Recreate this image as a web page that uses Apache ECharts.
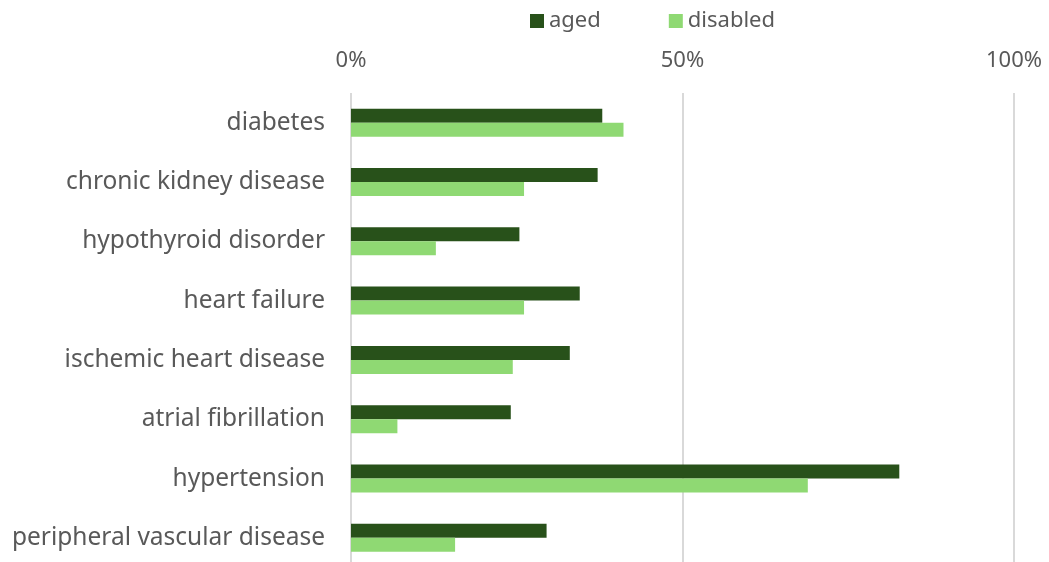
<!DOCTYPE html>
<html>
<head>
<meta charset="utf-8">
<script src="https://cdn.jsdelivr.net/npm/echarts@6/dist/echarts.min.js"></script>
<style>
  html, body { margin: 0; padding: 0; background: #fff; }
  #chart { width: 1049px; height: 562px; }
</style>
</head>
<body>
<div id="chart"></div>
<script>
// categories top to bottom
const categories = [
  'diabetes',
  'chronic kidney disease',
  'hypothyroid disorder',
  'heart failure',
  'ischemic heart disease',
  'atrial fibrillation',
  'hypertension',
  'peripheral vascular disease'
]
// percentages
const aged = [37.9, 37.2, 25.4, 34.5, 33.0, 24.1, 82.7, 29.5]
const disabled = [41.1, 26.1, 12.8, 26.1, 24.4, 7.0, 68.9, 15.7]

const chart = echarts.init(document.getElementById('chart'))
const textColor = '#595959'
const font = "'Noto Sans', 'Open Sans', sans-serif"

const option = {
  animation: false,
  textStyle: { fontFamily: font },
  legend: {
    data: ['aged', 'disabled'],
    left: 525,
    top: 5,
    itemWidth: 14,
    itemHeight: 14,
    itemGap: 68,
    icon: 'rect',
    textStyle: { color: textColor, fontSize: 22, fontFamily: font }
  },
  grid: {
    left: 351,
    right: 35,
    top: 93,
    height: 474.5,
    outerBoundsMode: 'none'
  },
  xAxis: {
    type: 'value',
    position: 'top',
    min: 0,
    max: 100,
    interval: 50,
    axisLine: { show: false },
    axisTick: { show: false },
    axisLabel: {
      formatter: '{value}%',
      color: textColor,
      fontSize: 22,
      margin: 21
    },
    splitLine: { lineStyle: { color: '#D9D9D9', width: 2 } }
  },
  yAxis: {
    type: 'category',
    inverse: true,
    data: categories,
    axisLine: { show: false },
    axisTick: { show: false },
    axisLabel: {
      color: textColor,
      fontSize: 24.5,
      margin: 26
    }
  },
  series: [
    {
      name: 'aged',
      type: 'bar',
      data: aged,
      barWidth: 14,
      barGap: '0%',
      itemStyle: { color: '#28511A' }
    },
    {
      name: 'disabled',
      type: 'bar',
      data: disabled,
      barWidth: 14,
      itemStyle: { color: '#8FD973' }
    }
  ]
}
chart.setOption(option)
</script>
</body>
</html>
